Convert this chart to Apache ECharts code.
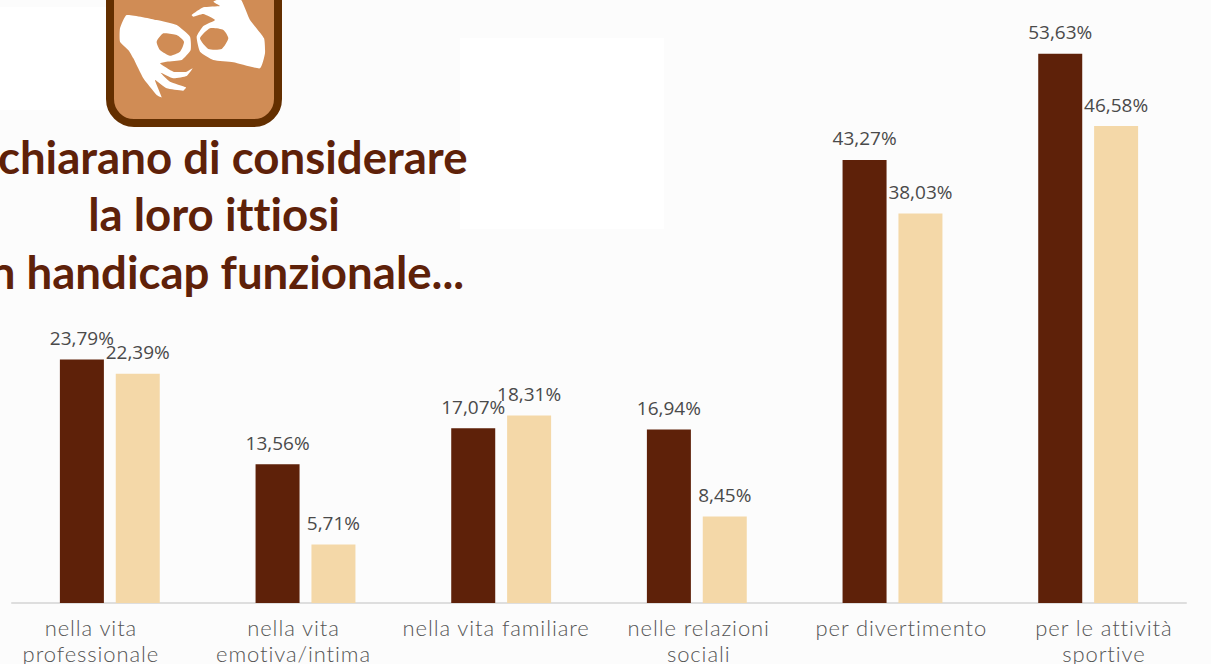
<!DOCTYPE html>
<html><head><meta charset="utf-8">
<style>html,body{margin:0;padding:0;background:#fcfcfc}#c{width:1211px;height:664px}
text{font-variant-ligatures:none}
text[style*="300"]{letter-spacing:0.9px}</style>
<script src="https://cdn.jsdelivr.net/npm/echarts@6/dist/echarts.min.js"></script>
</head><body><div id="c"></div>
<script>
const categories = ['nella vita\nprofessionale','nella vita\nemotiva/intima','nella vita familiare','nelle relazioni\nsociali','per divertimento','per le attività\nsportive'];
const seriesA = [23.79,13.56,17.07,16.94,43.27,53.63];
const seriesB = [22.39,5.71,18.31,8.45,38.03,46.58];
const titleLines = ['dichiarano di considerare','la loro ittiosi','un handicap funzionale...'];
const fmt = p => p.value.toFixed(2).replace('.',',') + '%';
const pts = a => a.map(p => [p[0]/3, p[1]/3]);
const handL = pts([[360,85],[380,45],[470,60],[530,75],[570,110],[572,150],[545,180],[500,185],[480,190],[520,215],[560,215],[578,205],[560,228],[520,235],[482,218],[510,245],[558,262],[550,272],[500,265],[465,240],[485,292],[470,285],[430,235],[400,175],[385,150],[360,125]]);
const holeL = pts([[470,125],[490,100],[530,105],[552,125],[540,155],[510,167],[480,150]]);
const handR = pts([[575,45],[610,22],[660,18],[640,5],[665,-5],[720,-5],[750,60],[792,115],[795,160],[780,205],[700,187],[640,180],[600,155],[590,110],[610,78],[645,60],[610,42],[580,50]]);
const holeR = pts([[600,115],[630,85],[670,90],[685,115],[665,147],[625,147]]);
const tan = '#d08c55';
const label = {show:true,position:'top',distance:12,formatter:fmt,fontFamily:'Open Sans',fontSize:19,color:'#4a4a4a'};
const chart = echarts.init(document.getElementById('c'),null,{renderer:'svg'});
chart.setOption({
  animation:false,
  backgroundColor:'#fcfcfc',
  grid:[
    {left:12,width:1174,top:39.8,height:563.2,containLabel:false,outerBoundsMode:'none'},
    {left:-10.4,width:1215.6,top:39.8,height:563.2,containLabel:false,outerBoundsMode:'none'}
  ],
  xAxis:[
    {type:'category',gridIndex:0,data:categories,
      axisLine:{lineStyle:{color:'#dedede',width:2}},axisTick:{show:false},axisLabel:{show:false}},
    {type:'category',gridIndex:1,data:categories,
      axisLine:{show:false},axisTick:{show:false},
      axisLabel:{interval:0,margin:11,fontFamily:'Lato',fontWeight:300,fontSize:22,lineHeight:26,color:'#555',verticalAlign:'top'}}
  ],
  yAxis:[
    {type:'value',gridIndex:0,min:0,max:55,show:false,splitLine:{show:false}},
    {type:'value',gridIndex:1,min:0,max:55,show:false,splitLine:{show:false}}
  ],
  series:[
    {type:'bar',data:seriesA,barWidth:44,barGap:'27%',itemStyle:{color:'#5e2109'},label},
    {type:'bar',data:seriesB,barWidth:44,itemStyle:{color:'#f4d8a8'},label}
  ],
  graphic:[
    {type:'rect',z:-1,shape:{x:0,y:7,width:106,height:103},style:{fill:'#ffffff'}},
    {type:'rect',z:-1,shape:{x:460,y:38,width:204,height:191},style:{fill:'#ffffff'}},
    {type:'rect',shape:{x:110,y:-30,width:168,height:153,r:24},style:{fill:tan,stroke:'#632f00',lineWidth:8}},
    {type:'polygon',shape:{points:handL,smooth:0.15},style:{fill:'#fff'}},
    {type:'polygon',shape:{points:handR,smooth:0.15},style:{fill:'#fff'}},
    {type:'polygon',shape:{points:holeL,smooth:0.2},style:{fill:tan}},
    {type:'polygon',shape:{points:holeR,smooth:0.2},style:{fill:tan}},
    ...titleLines.map((t,i)=>({type:'text',x:214,y:156+i*57.5,style:{text:t,textAlign:'center',textVerticalAlign:'middle',fontFamily:'Lato',fontWeight:700,fontSize:45.6,fill:'#5e2109'}}))
  ]
});
</script></body></html>
